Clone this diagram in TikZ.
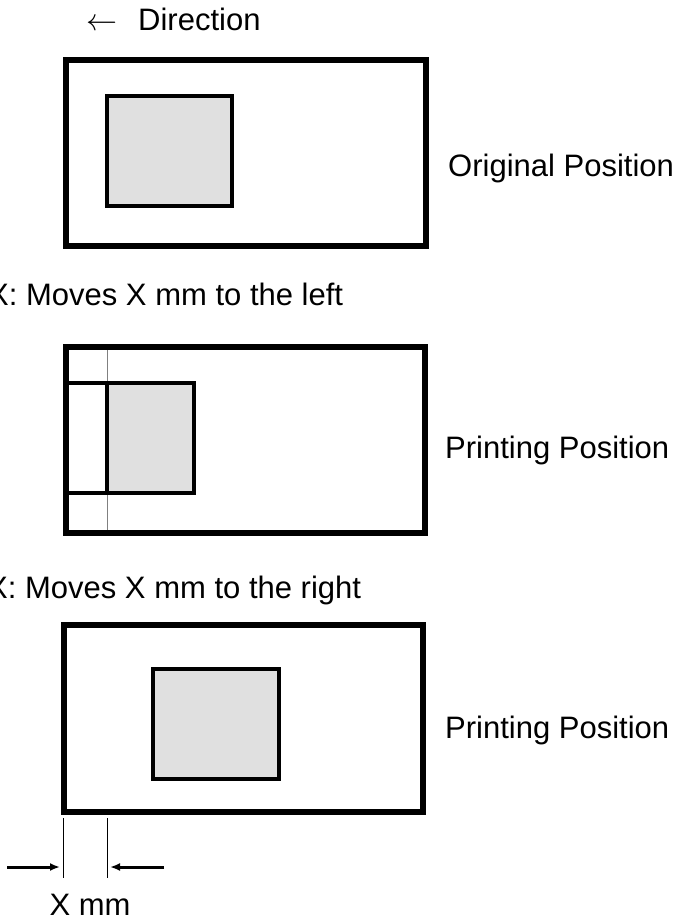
\documentclass[tikz,border=0pt]{standalone}
\usepackage{fix-cm}
\usepackage{fontspec}
\setmainfont{Liberation Sans}
\usetikzlibrary{arrows.meta,positioning,calc}
\definecolor{imgfill}{HTML}{E0E0E0}
\definecolor{guidegray}{HTML}{808080}
\tikzset{
  pagebox/.style={draw, line width=6pt, fill=white},
  pageedge/.style={draw, line width=6pt},
  imgbox/.style={draw, line width=4.5pt, fill=imgfill},
  edgeline/.style={line width=4.5pt},
  guideline/.style={draw=guidegray, line width=1pt},
  tickline/.style={line width=1pt},
  dimarrw/.style={-{Latex[length=10pt,width=8pt]}, line width=3pt},
  lbl/.style={inner sep=0pt, anchor=base west, font=\fontsize{31}{37}\selectfont},
}
\begin{document}
\begin{tikzpicture}[x=1pt,y=-1pt]
  \useasboundingbox (0,0) rectangle (677,920);

  % original position
  \node[lbl] (dirtext) at (138,31) {Direction};
  \node[lbl, anchor=base east] (dirarrow) at ($(dirtext.base west)+(-20,0)$) {$\leftarrow$};
  \draw[pagebox] (66,60) rectangle (426,246);
  \draw[imgbox] (107,96) rectangle (232,206);
  \node[lbl] (origlbl) at (448,176) {Original Position};

  % shifted to the left
  \node[lbl] (leftcap) at (-12,305) {X: Moves X mm to the left};
  \draw[pagebox] (66,347) rectangle (425,533);
  \draw[guideline] (107,350) -- (107,530);
  \draw[edgeline] (66,383) -- (107,383);
  \draw[edgeline] (66,493) -- (107,493);
  \draw[imgbox] (107,383) rectangle (194,493);
  \draw[pageedge] (66,347) rectangle (425,533);
  \node[lbl] (printlbla) at (445,458) {Printing Position};

  % shifted to the right
  \node[lbl] (rightcap) at (-13,598) {X: Moves X mm to the right};
  \draw[pagebox] (64,625) rectangle (423,812);
  \draw[imgbox] (153,669) rectangle (279,779);
  \node[lbl] (printlblb) at (445,738) {Printing Position};

  % offset dimension
  \coordinate (tickLtop) at (63,818);
  \coordinate (tickLbot) at (63,878);
  \coordinate (tickRtop) at (107,818);
  \coordinate (tickRbot) at (107,878);
  \coordinate (arrLfrom) at (7,867);
  \coordinate (arrLto) at (60,867);
  \coordinate (arrRfrom) at (164,867);
  \coordinate (arrRto) at (110,867);
  \draw[tickline] (tickLtop) -- (tickLbot);
  \draw[tickline] (tickRtop) -- (tickRbot);
  \draw[dimarrw] (arrLfrom) -- (arrLto);
  \draw[dimarrw] (arrRfrom) -- (arrRto);
  \node[lbl, anchor=base] (xmmlbl) at (90,915) {X mm};
\end{tikzpicture}
\end{document}
